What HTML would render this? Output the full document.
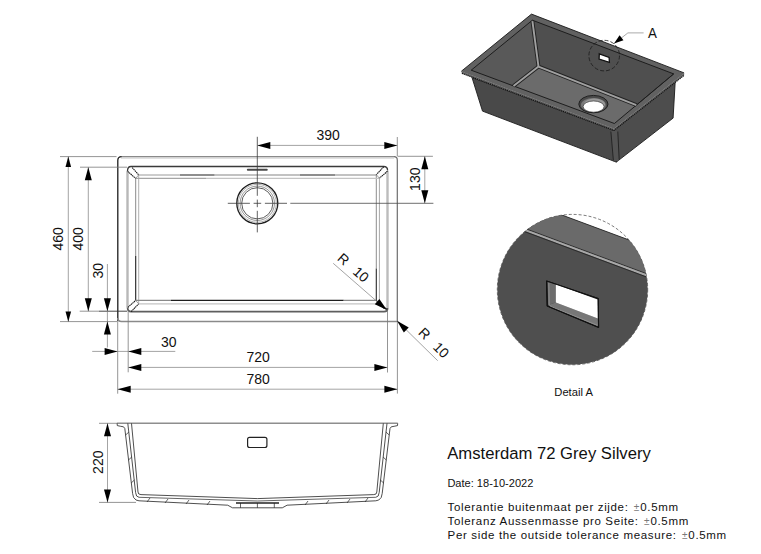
<!DOCTYPE html>
<html><head><meta charset="utf-8"><title>Amsterdam 72</title>
<style>
html,body{margin:0;padding:0;background:#fff;width:761px;height:554px;overflow:hidden}
svg{display:block}
text{font-family:"Liberation Sans",sans-serif}
</style></head><body>
<svg width="761" height="554" viewBox="0 0 761 554">
<rect width="761" height="554" fill="#fff"/>
<g id="top">
<line x1="121" y1="156.6" x2="394" y2="156.6" stroke="#8a8a8a" stroke-width="1.1" />
<line x1="121" y1="158.0" x2="394" y2="158.0" stroke="#c4c4c4" stroke-width="1.2" />
<path d="M117.8,321 L117.8,160.5 Q117.8,156.6 121.5,156.6" fill="none" stroke="#1e1e1e" stroke-width="1.3"/>
<path d="M394,156.6 Q397.3,156.6 397.3,160 L397.3,321.4" fill="none" stroke="#6d6d6d" stroke-width="1.2"/>
<path d="M117.8,318 Q117.8,321.5 121.5,321.5 L397.3,321.5" fill="none" stroke="#8a8a8a" stroke-width="1.6"/>
<path d="M127.5,171 Q127.5,166.5 131,166.5 L383.7,166.5 Q387.6,166.5 387.6,170.5" fill="none" stroke="#3a3a3a" stroke-width="1.3"/>
<line x1="127.5" y1="171" x2="127.5" y2="307.5" stroke="#b8b8b8" stroke-width="2.4" />
<line x1="387.5" y1="171" x2="387.5" y2="308" stroke="#bcbcbc" stroke-width="2.4" />
<path d="M127.6,307.5 Q127.6,311.7 131.2,311.7 L384,311.7 Q387.6,311.7 387.6,308" fill="none" stroke="#5e5e5e" stroke-width="1.8"/>
<line x1="135.7" y1="178.4" x2="135.7" y2="256" stroke="#8a8a8a" stroke-width="1.0" />
<line x1="135.7" y1="256" x2="135.7" y2="300.3" stroke="#1e1e1e" stroke-width="1.1" />
<line x1="138.7" y1="174.8" x2="138.7" y2="303.8" stroke="#b0b0b0" stroke-width="1.0" />
<line x1="376.3" y1="174.7" x2="376.3" y2="268.5" stroke="#8e8e8e" stroke-width="1.0" />
<line x1="376.3" y1="268.5" x2="376.3" y2="300.3" stroke="#2a2a2a" stroke-width="1.1" />
<line x1="379.4" y1="178.4" x2="379.4" y2="303.5" stroke="#a8a8a8" stroke-width="1.0" />
<line x1="138.7" y1="175.0" x2="180" y2="175.0" stroke="#9a9a9a" stroke-width="1.0" />
<line x1="180" y1="175.0" x2="214.6" y2="175.0" stroke="#1e1e1e" stroke-width="1.2" />
<line x1="214.6" y1="175.0" x2="300" y2="175.0" stroke="#858585" stroke-width="1.0" />
<line x1="300" y1="175.0" x2="335" y2="175.0" stroke="#1e1e1e" stroke-width="1.2" />
<line x1="335" y1="175.0" x2="376.3" y2="175.0" stroke="#858585" stroke-width="1.0" />
<line x1="135.7" y1="178.4" x2="206" y2="178.4" stroke="#a5a5a5" stroke-width="1.1" />
<line x1="206" y1="178.4" x2="379.4" y2="178.4" stroke="#c4c4c4" stroke-width="1.1" />
<line x1="135.7" y1="300.4" x2="171" y2="300.4" stroke="#8a8a8a" stroke-width="1.1" />
<line x1="171" y1="300.4" x2="343.7" y2="300.4" stroke="#1e1e1e" stroke-width="1.2" />
<line x1="343.7" y1="300.4" x2="376.3" y2="300.4" stroke="#8a8a8a" stroke-width="1.1" />
<line x1="138.7" y1="303.8" x2="379.4" y2="303.8" stroke="#c4c4c4" stroke-width="1.3" />
<polyline points="127.6,171.4 135.7,178.4" fill="none" stroke="#161616" stroke-width="1.05" stroke-dasharray="1.5 0.5"/>
<polyline points="132.2,167.6 138.7,174.9" fill="none" stroke="#161616" stroke-width="1.05" stroke-dasharray="1.5 0.5"/>
<line x1="135.7" y1="178.4" x2="138.7" y2="174.9" stroke="#888" stroke-width="0.8" />
<polyline points="383.7,166.8 376.3,174.7" fill="none" stroke="#161616" stroke-width="1.05" stroke-dasharray="1.5 0.5"/>
<polyline points="387.5,171.2 379.4,178.2" fill="none" stroke="#161616" stroke-width="1.05" stroke-dasharray="1.5 0.5"/>
<line x1="376.3" y1="174.7" x2="379.4" y2="178.2" stroke="#888" stroke-width="0.8" />
<polyline points="127.9,307.3 135.7,300.4" fill="none" stroke="#161616" stroke-width="1.05" stroke-dasharray="1.5 0.5"/>
<polyline points="131.1,311.7 138.7,303.8" fill="none" stroke="#161616" stroke-width="1.05" stroke-dasharray="1.5 0.5"/>
<line x1="135.7" y1="300.4" x2="138.7" y2="303.8" stroke="#888" stroke-width="0.8" />
<polyline points="376.3,300.4 384,308.5" fill="none" stroke="#161616" stroke-width="1.05" stroke-dasharray="1.5 0.5"/>
<polyline points="379.4,303.8 387.2,309.5" fill="none" stroke="#161616" stroke-width="1.05" stroke-dasharray="1.5 0.5"/>
<line x1="247.8" y1="169.8" x2="266.8" y2="169.8" stroke="#4a4a4a" stroke-width="1.9" stroke-linecap="round"/>
<circle cx="257.3" cy="203.3" r="20.5" fill="none" stroke="#1e1e1e" stroke-width="1.35"/>
<circle cx="257.3" cy="203.3" r="19.0" fill="none" stroke="#b4b4b4" stroke-width="1"/>
<circle cx="257.3" cy="203.3" r="17.2" fill="none" stroke="#8a8a8a" stroke-width="0.9"/>
<circle cx="257.3" cy="203.3" r="15.6" fill="none" stroke="#4a4a4a" stroke-width="0.9"/>
<line x1="257.3" y1="136.8" x2="257.3" y2="195.8" stroke="#3a3a3a" stroke-width="0.8" />
<line x1="257.3" y1="199.6" x2="257.3" y2="207.2" stroke="#3a3a3a" stroke-width="0.8" />
<line x1="257.3" y1="210.8" x2="257.3" y2="232.4" stroke="#3a3a3a" stroke-width="0.8" />
<line x1="227.8" y1="203.3" x2="249.9" y2="203.3" stroke="#3a3a3a" stroke-width="0.8" />
<line x1="253.6" y1="203.3" x2="261.2" y2="203.3" stroke="#3a3a3a" stroke-width="0.8" />
<line x1="264.9" y1="203.3" x2="287.0" y2="203.3" stroke="#3a3a3a" stroke-width="0.8" />
<line x1="290.3" y1="203.3" x2="433.4" y2="203.3" stroke="#4a4a4a" stroke-width="0.8" />
<line x1="397.3" y1="137" x2="397.3" y2="156" stroke="#7a7a7a" stroke-width="0.8" />
<line x1="257.3" y1="145.4" x2="397.3" y2="145.4" stroke="#7c7c7c" stroke-width="0.7" />
<polygon points="257.30,145.40 270.30,141.90 270.30,148.90" fill="#000"/>
<polygon points="397.30,145.40 384.30,148.90 384.30,141.90" fill="#000"/>
<text x="328.2" y="140.3" font-size="14" text-anchor="middle" fill="#111" >390</text>
<line x1="397.5" y1="156.3" x2="432.9" y2="156.3" stroke="#7a7a7a" stroke-width="0.8" />
<line x1="424.8" y1="156.3" x2="424.8" y2="203.3" stroke="#7c7c7c" stroke-width="0.7" />
<polygon points="424.80,156.30 428.30,169.30 421.30,169.30" fill="#000"/>
<polygon points="424.80,203.30 421.30,190.30 428.30,190.30" fill="#000"/>
<text x="420.4" y="179.2" font-size="14" text-anchor="middle" fill="#111" transform="rotate(-90 420.4 179.2)" >130</text>
<line x1="60" y1="156.6" x2="116.5" y2="156.6" stroke="#7a7a7a" stroke-width="0.8" />
<line x1="60" y1="321.6" x2="117" y2="321.6" stroke="#7a7a7a" stroke-width="0.8" />
<line x1="68.3" y1="156.6" x2="68.3" y2="321.6" stroke="#7c7c7c" stroke-width="0.7" />
<polygon points="68.30,156.60 71.10,166.90 65.50,166.90" fill="#000"/>
<polygon points="68.30,321.80 65.50,311.50 71.10,311.50" fill="#000"/>
<text x="63.1" y="238.9" font-size="14" text-anchor="middle" fill="#111" transform="rotate(-90 63.1 238.9)" >460</text>
<line x1="80" y1="167.2" x2="127" y2="167.2" stroke="#7a7a7a" stroke-width="0.8" />
<line x1="79.7" y1="311.2" x2="99" y2="311.2" stroke="#7a7a7a" stroke-width="0.8" />
<line x1="99" y1="311.2" x2="127" y2="311.2" stroke="#333" stroke-width="0.9" />
<line x1="88.3" y1="167.2" x2="88.3" y2="311.2" stroke="#7c7c7c" stroke-width="0.7" />
<polygon points="88.30,167.20 91.80,180.20 84.80,180.20" fill="#000"/>
<polygon points="88.30,311.20 84.80,298.20 91.80,298.20" fill="#000"/>
<text x="83.3" y="238.9" font-size="14" text-anchor="middle" fill="#111" transform="rotate(-90 83.3 238.9)" >400</text>
<line x1="107.4" y1="264" x2="107.4" y2="347.5" stroke="#7c7c7c" stroke-width="0.7" />
<polygon points="107.40,311.20 103.90,298.20 110.90,298.20" fill="#000"/>
<polygon points="107.40,321.50 110.90,334.50 103.90,334.50" fill="#000"/>
<text x="102.8" y="270.7" font-size="14" text-anchor="middle" fill="#111" transform="rotate(-90 102.8 270.7)" >30</text>
<line x1="92.2" y1="351.4" x2="175.3" y2="351.4" stroke="#7c7c7c" stroke-width="0.7" />
<polygon points="117.60,351.40 104.60,354.90 104.60,347.90" fill="#000"/>
<polygon points="128.30,351.40 141.30,347.90 141.30,354.90" fill="#000"/>
<text x="168.8" y="346.7" font-size="14" text-anchor="middle" fill="#111" >30</text>
<line x1="117.7" y1="321" x2="117.7" y2="393.7" stroke="#7a7a7a" stroke-width="0.8" />
<line x1="128.2" y1="311" x2="128.2" y2="372.3" stroke="#7a7a7a" stroke-width="0.8" />
<line x1="387.5" y1="311" x2="387.5" y2="372.5" stroke="#7a7a7a" stroke-width="0.8" />
<line x1="397.4" y1="321" x2="397.4" y2="393.6" stroke="#7a7a7a" stroke-width="0.8" />
<line x1="128.3" y1="367.4" x2="387.4" y2="367.4" stroke="#7c7c7c" stroke-width="0.7" />
<polygon points="128.30,367.40 141.30,363.90 141.30,370.90" fill="#000"/>
<polygon points="387.40,367.40 374.40,370.90 374.40,363.90" fill="#000"/>
<text x="258.2" y="362.4" font-size="14" text-anchor="middle" fill="#111" >720</text>
<line x1="117.7" y1="389.2" x2="397.4" y2="389.2" stroke="#7c7c7c" stroke-width="0.7" />
<polygon points="117.70,389.20 130.70,385.70 130.70,392.70" fill="#000"/>
<polygon points="397.40,389.20 384.40,392.70 384.40,385.70" fill="#000"/>
<text x="258.2" y="383.9" font-size="14" text-anchor="middle" fill="#111" >780</text>
<line x1="333.2" y1="263.3" x2="386.9" y2="310.1" stroke="#7c7c7c" stroke-width="0.7" />
<polygon points="386.90,310.10 374.80,304.20 379.40,298.92" fill="#000"/>
<text x="336.5" y="259.5" font-size="14" text-anchor="start" fill="#111" transform="rotate(41.072423373782556 336.5 259.5)" >R&#160;&#160;<tspan dx="2.6">10</tspan></text>
<line x1="397.0" y1="320.8" x2="437.7" y2="360.7" stroke="#7c7c7c" stroke-width="0.7" />
<polygon points="397.00,320.80 408.73,327.40 403.83,332.40" fill="#000"/>
<text x="417.5" y="333.6" font-size="14" text-anchor="start" fill="#111" transform="rotate(44.431326073510974 417.5 333.6)" >R&#160;&#160;<tspan dx="2.6">10</tspan></text>
</g>
<g id="side">
<line x1="99" y1="423.3" x2="117" y2="423.3" stroke="#7a7a7a" stroke-width="0.8" />
<line x1="117" y1="423.3" x2="397.7" y2="423.3" stroke="#8e8e8e" stroke-width="1.6" />
<line x1="99" y1="502.4" x2="136" y2="502.4" stroke="#7a7a7a" stroke-width="0.8" />
<line x1="107.5" y1="423.3" x2="107.5" y2="502.4" stroke="#7c7c7c" stroke-width="0.7" />
<polygon points="107.50,423.30 111.00,436.30 104.00,436.30" fill="#000"/>
<polygon points="107.50,502.40 104.00,489.40 111.00,489.40" fill="#000"/>
<text x="103.5" y="462.2" font-size="14" text-anchor="middle" fill="#111" transform="rotate(-90 103.5 462.2)" >220</text>
<polyline points="117.10,423.40 117.30,425.60 120.70,426.30 123.50,426.80 124.80,428.50 132.60,493.50 133.60,497.50 136.00,500.00 139.00,500.80" fill="none" stroke="#222" stroke-width="0.8"/>
<polyline points="127.80,423.40 135.60,492.50 136.60,496.00 139.00,497.30" fill="none" stroke="#222" stroke-width="0.8"/>
<polyline points="131.50,423.40 138.00,492.00 138.80,494.00 141.00,494.60" fill="none" stroke="#222" stroke-width="0.8"/>
<line x1="125.6" y1="435" x2="128.9" y2="432" stroke="#222" stroke-width="0.7"/>
<line x1="128.5" y1="460" x2="131.7" y2="457" stroke="#222" stroke-width="0.7"/>
<line x1="131.2" y1="483" x2="134.4" y2="480" stroke="#222" stroke-width="0.7"/>
<polyline points="397.70,423.40 397.50,425.60 394.10,426.30 391.30,426.80 390.00,428.50 382.20,493.50 381.20,497.50 378.80,500.00 375.80,500.80" fill="none" stroke="#222" stroke-width="0.8"/>
<polyline points="387.00,423.40 379.20,492.50 378.20,496.00 375.80,497.30" fill="none" stroke="#222" stroke-width="0.8"/>
<polyline points="383.30,423.40 376.80,492.00 376.00,494.00 373.80,494.60" fill="none" stroke="#222" stroke-width="0.8"/>
<line x1="389.19999999999993" y1="435" x2="385.9" y2="432" stroke="#222" stroke-width="0.7"/>
<line x1="386.29999999999995" y1="460" x2="383.09999999999997" y2="457" stroke="#222" stroke-width="0.7"/>
<line x1="383.59999999999997" y1="483" x2="380.4" y2="480" stroke="#222" stroke-width="0.7"/>
<polyline points="141,494.6 257.4,498.6 373.8,494.6" fill="none" stroke="#222" stroke-width="0.8"/>
<polyline points="139,497.3 257.4,501 375.8,497.3" fill="none" stroke="#222" stroke-width="0.7"/>
<polyline points="139,500.8 227.7,505.2 232.5,507.8 282.3,507.8 287.1,505.2 375.8,500.8" fill="none" stroke="#222" stroke-width="0.8"/>
<line x1="240.5" y1="503" x2="240.5" y2="507.8" stroke="#222" stroke-width="0.7" />
<line x1="257.4" y1="503" x2="257.4" y2="507.8" stroke="#222" stroke-width="0.7" />
<line x1="274.3" y1="503" x2="274.3" y2="507.8" stroke="#222" stroke-width="0.7" />
<line x1="236" y1="503" x2="279" y2="503" stroke="#222" stroke-width="1.6" />
<line x1="147" y1="502" x2="150" y2="498" stroke="#222" stroke-width="0.7" />
<line x1="165" y1="503" x2="168" y2="499" stroke="#222" stroke-width="0.7" />
<line x1="186" y1="504" x2="189" y2="500" stroke="#222" stroke-width="0.7" />
<line x1="207" y1="505" x2="210" y2="501" stroke="#222" stroke-width="0.7" />
<line x1="305" y1="505" x2="308" y2="501" stroke="#222" stroke-width="0.7" />
<line x1="326" y1="504" x2="329" y2="500" stroke="#222" stroke-width="0.7" />
<line x1="347" y1="503" x2="350" y2="499" stroke="#222" stroke-width="0.7" />
<line x1="365" y1="502" x2="368" y2="498" stroke="#222" stroke-width="0.7" />
<rect x="247.6" y="437.3" width="19.3" height="10.2" rx="2" fill="none" stroke="#222" stroke-width="1.2"/>
</g>
<g id="iso">
<polygon points="472,77.5 613.9,130.4 616.3,162.1 482.5,111.1" fill="#494949" stroke="#1a1a1a" stroke-width="0.9" />
<polygon points="613.9,130.4 675.2,81.8 673.1,118.1 616.3,162.1" fill="#4d4d4d" stroke="#1a1a1a" stroke-width="0.9" />
<polygon points="610.8,131 617.5,131 619,161 613.5,161.5" fill="#535353" stroke="none" stroke-width="0" />
<line x1="610.9" y1="131.5" x2="613.4" y2="160.5" stroke="#1a1a1a" stroke-width="0.8"/>
<line x1="617.8" y1="131.5" x2="619.2" y2="159.5" stroke="#1a1a1a" stroke-width="0.8"/>
<polygon points="461.4,71.2 613.9,128.4 613.9,130.4 461.9,73.4" fill="#626262" stroke="none" stroke-width="0" />
<polygon points="613.9,128.4 684.1,72.9 684.1,75.4 613.9,130.4" fill="#626262" stroke="none" stroke-width="0" />
<polygon points="461.4,71.2 531.5,14.1 684.1,72.9 613.9,128.4" fill="#616161" stroke="none" stroke-width="0" />
<polygon points="461.4,71.2 613.9,128.4 684.1,72.9 673.7,73.9 614.4,123.5 471.2,70.2" fill="#626262" stroke="none" stroke-width="0" />
<polyline points="461.4,71.2 531.5,14.1 684.1,72.9" stroke="#1a1a1a" stroke-width="0.9" fill="none"/>
<polygon points="532.4,20.2 471.2,70.2 513.5,85.9 538.5,66.6" fill="#595959" stroke="none" stroke-width="0" />
<polygon points="532.4,20.2 673.7,73.9 636.4,105.1 538.5,66.6" fill="#4f4f4f" stroke="none" stroke-width="0" />
<polygon points="513.5,85.9 538.5,66.6 636.4,105.1 614.4,123.5" fill="#6b6b6b" stroke="none" stroke-width="0" />
<polygon points="471.2,70.2 532.4,20.2 673.7,73.9 614.4,123.5" fill="none" stroke="#151515" stroke-width="0.9" />
<polyline points="532.4,21.2 538.5,66.6" stroke="#222" stroke-width="3.8" fill="none"/>
<polyline points="513.5,85.9 538.5,66.6 636.4,105.1" stroke="#222" stroke-width="3.8" fill="none" stroke-linejoin="round"/>
<polyline points="532.4,21.2 538.5,66.6" stroke="#a0a0a0" stroke-width="1.9" fill="none"/>
<polyline points="513.5,85.9 538.5,66.6 636.4,105.1" stroke="#a0a0a0" stroke-width="1.9" fill="none" stroke-linejoin="round"/>
<polyline points="673.7,73.9 636.4,105.1" stroke="#1d1d1d" stroke-width="0.8" fill="none"/>
<polyline points="461.9,73.4 613.9,130.4 684.1,75.4" stroke="#111" stroke-width="1.2" fill="none" stroke-dasharray="1.1 0.9"/>
<ellipse cx="593.4" cy="104.1" rx="14.6" ry="8.7" fill="#4a4a4a" stroke="#1a1a1a" stroke-width="0.9"/>
<ellipse cx="593.4" cy="105.0" rx="12.4" ry="7.0" fill="#7a7a7a"/>
<ellipse cx="594.5" cy="104.2" rx="10.5" ry="5.6" fill="#9a9a9a"/>
<ellipse cx="593.6" cy="106.6" rx="10.5" ry="5.6" fill="#ffffff" stroke="#222" stroke-width="0.6"/>
<circle cx="604.2" cy="55.6" r="15.3" fill="none" stroke="#1a1a1a" stroke-width="0.8" stroke-dasharray="4 2"/>
<polygon points="599.3,53.8 609.1,57.5 609.4,62.3 599.1,59" fill="#fff" stroke="#111" stroke-width="1.3" />
<polyline points="614.1,43.7 627.9,32.9 643.6,32.9" fill="none" stroke="#aaa" stroke-width="1"/>
<polygon points="614.00,43.60 619.58,35.27 623.48,40.34" fill="#000"/>
<text x="647.9" y="37.8" font-size="14" text-anchor="start" fill="#111" textLength="8.9" lengthAdjust="spacingAndGlyphs">A</text>
</g>
<g id="detail">
<defs><clipPath id="dc"><circle cx="572.5" cy="289.6" r="75.2"/></clipPath></defs>
<circle cx="572.5" cy="289.6" r="75.2" fill="none" stroke="#222" stroke-width="0.6" stroke-dasharray="3 2"/>
<g clip-path="url(#dc)">
<polygon points="480,184.524 680,258.924 680,380 480,380" fill="#4f4f4f" stroke="none" stroke-width="0" />
<polygon points="480,184.524 680,258.924 680,287.1416 480,212.7416" fill="#6a6a6a" stroke="none" stroke-width="0" />
<line x1="480" y1="184.524" x2="680" y2="258.924" stroke="#222" stroke-width="0.8"/>
<line x1="480" y1="211.7416" x2="680" y2="286.1416" stroke="#222" stroke-width="0.8"/>
<line x1="480" y1="213.3416" x2="680" y2="287.7416" stroke="#a8a8a8" stroke-width="2"/>
<line x1="480" y1="215.0416" x2="680" y2="289.4416" stroke="#222" stroke-width="0.8"/>
</g>
<polygon points="546.6,281 547.2,306 598.6,327.4 598.2,298.5" fill="#3a3a3a" stroke="#111" stroke-width="1" />
<polygon points="547.6,281.6 555.8,284.2 555.8,302.4 548.2,305" fill="#6c6c6c" stroke="none" stroke-width="0" />
<polygon points="548.2,305 555.8,302.4 597.8,318.4 598,326.2" fill="#777" stroke="none" stroke-width="0" />
<polygon points="555.8,284.2 597.6,299.6 597.8,318.4 555.8,302.4" fill="#ffffff" stroke="none" stroke-width="0" />
<polyline points="548.8,283 549.2,304.5 551,306.6 597.2,325.2" fill="none" stroke="#8e8e8e" stroke-width="1.1" stroke-linejoin="round"/>
<polygon points="546.6,281 547.2,306 598.6,327.4 598.2,298.5" fill="none" stroke="#111" stroke-width="1.1" stroke-linejoin="round"/>
<text x="573.6" y="396.2" font-size="11.2" text-anchor="middle" fill="#111" >Detail A</text>
</g>
<g id="txt">
<text x="447.2" y="458.7" font-size="16.67" text-anchor="start" fill="#111" >Amsterdam 72 Grey Silvery</text>
<text x="447.4" y="487" font-size="11.05" text-anchor="start" fill="#111" >Date: 18-10-2022</text>
<text x="447.6" y="510.7" font-size="11.5" text-anchor="start" fill="#111" letter-spacing="0.66">Tolerantie buitenmaat per zijde: <tspan dx="1.4" font-size="10" fill="#7a7a7a">&#177;</tspan><tspan dx="0.3">0.5mm</tspan></text>
<text x="447.6" y="524.9" font-size="11.5" text-anchor="start" fill="#111" letter-spacing="0.66">Toleranz Aussenmasse pro Seite: <tspan dx="1.4" font-size="10" fill="#7a7a7a">&#177;</tspan><tspan dx="0.3">0.5mm</tspan></text>
<text x="447.6" y="539.0" font-size="11.5" text-anchor="start" fill="#111" letter-spacing="0.66">Per side the outside tolerance measure: <tspan dx="1.4" font-size="10" fill="#7a7a7a">&#177;</tspan><tspan dx="0.3">0.5mm</tspan></text>
</g>
</svg>
</body></html>
